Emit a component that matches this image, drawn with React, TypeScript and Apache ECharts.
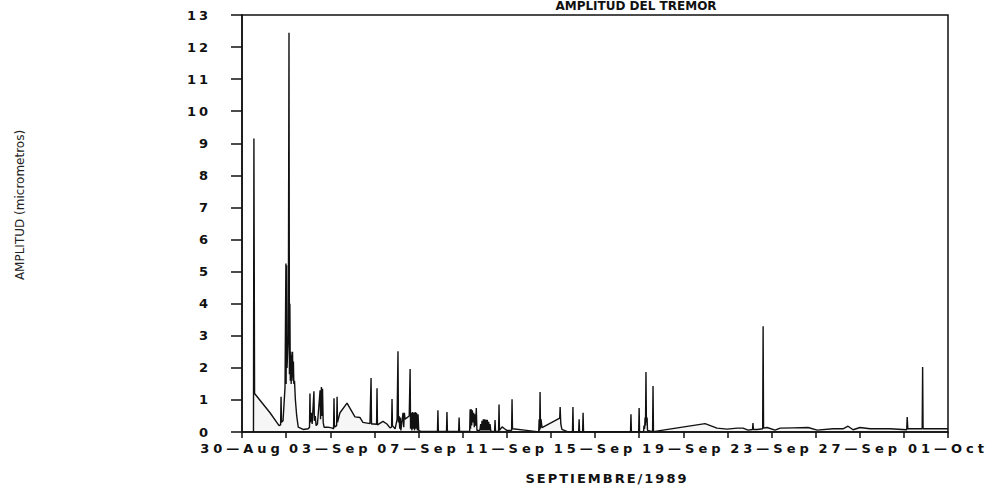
import React, { useEffect, useRef } from "react";
import * as echarts from "echarts";

// Tremor amplitude record: day offsets counted from 30 Aug 1989, amplitude in micrometres
const days = [
  0.52, 0.54, 0.57, 1.27, 1.68, 1.75, 1.77, 1.79, 1.86, 1.95, 1.99, 2.0, 2.02, 2.04, 2.1, 2.13,
  2.15, 2.17, 2.19, 2.21, 2.23, 2.25, 2.27, 2.29, 2.31, 2.33, 2.35, 2.38, 2.42, 2.48, 2.55, 2.77,
  3.0, 3.06, 3.08, 3.1, 3.14, 3.18, 3.26, 3.28, 3.32, 3.36, 3.42, 3.54, 3.56, 3.6, 3.62, 3.65,
  3.68, 3.72, 3.9, 4.1, 4.15, 4.17, 4.19, 4.29, 4.31, 4.33, 4.44, 4.76, 5.12, 5.35, 5.48, 5.8,
  5.83, 5.85, 5.87, 5.98, 6.1, 6.12, 6.14, 6.39, 6.57, 6.71, 6.78, 6.8, 6.82, 6.94, 7.03, 7.07,
  7.09, 7.12, 7.15, 7.18, 7.2, 7.3, 7.33, 7.36, 7.39, 7.58, 7.62, 7.64, 7.67, 7.7, 7.73, 7.76,
  7.79, 7.82, 7.85, 7.88, 7.91, 7.95, 7.98, 8.01, 8.1, 8.86, 8.88, 8.9, 9.27, 9.29, 9.31, 9.82,
  9.84, 9.86, 10.32, 10.34, 10.36, 10.38, 10.41, 10.44, 10.47, 10.5, 10.53, 10.56, 10.59, 10.62,
  10.65, 10.78, 10.82, 10.85, 10.88, 10.91, 10.94, 10.97, 11.0, 11.03, 11.06, 11.09, 11.12, 11.15,
  11.18, 11.21, 11.24, 11.28, 11.45, 11.47, 11.49, 11.63, 11.65, 11.67, 11.79, 11.9, 12.0, 12.22,
  12.24, 12.26, 12.8, 13.37, 13.45, 13.47, 13.49, 13.51, 13.53, 13.55, 13.6, 14.4, 14.42, 14.45,
  14.5, 14.75, 14.98, 15.0, 15.02, 15.26, 15.28, 15.3, 15.44, 15.46, 15.48, 17.61, 17.63, 17.65,
  17.98, 18.0, 18.02, 18.2, 18.22, 18.25, 18.27, 18.29, 18.31, 18.33, 18.36, 18.38, 18.61, 18.63,
  18.65, 19.08, 20.99, 21.53, 21.99, 22.44, 22.71, 22.94, 23.14, 23.16, 23.18, 23.35, 23.6, 23.62,
  23.64, 23.8, 24.16, 24.39, 24.98, 25.66, 26.07, 26.79, 27.24, 27.47, 27.7, 28.01, 28.47, 29.37,
  30.13, 30.15, 30.18, 30.37, 30.83, 30.85, 30.87, 32.0,
];

const amplitudes = [
  0, 9.15, 1.2, 0.6, 0.2, 0.22, 1.1, 0.3, 0.35, 1.4, 5.25, 1.5, 5.2, 2.0, 3.0, 12.45,
  1.8, 4.0, 1.6, 2.5, 1.5, 2.4, 1.7, 2.5, 1.6, 2.2, 1.5, 1.6, 1.0, 0.5, 0.15, 0.08,
  0.1, 0.15, 1.2, 0.3, 0.6, 0.25, 1.27, 0.35, 0.5, 0.2, 0.25, 1.3, 0.4, 1.4, 0.5, 1.35,
  0.3, 0.15, 0.15, 0.12, 0.1, 1.05, 0.15, 0.2, 1.1, 0.3, 0.6, 0.9, 0.47, 0.45, 0.3, 0.26,
  0.26, 1.68, 0.25, 0.25, 0.24, 1.36, 0.22, 0.33, 0.25, 0.13, 0.15, 1.03, 0.2, 0.1, 0.4, 2.52,
  0.3, 0.5, 0.1, 0.45, 0.05, 0.6, 0.15, 0.6, 0.4, 0.5, 1.96, 0.1, 0.6, 0.05, 0.62, 0.1,
  0.6, 0.05, 0.62, 0.1, 0.6, 0.05, 0.55, 0.05, 0.02, 0.02, 0.68, 0.02, 0.02, 0.62, 0.02, 0.02,
  0.45, 0.02, 0.02, 0.7, 0.1, 0.72, 0.2, 0.68, 0.3, 0.6, 0.15, 0.55, 0.2, 0.75,
  0.05, 0.05, 0.25, 0.05, 0.35, 0.05, 0.4, 0.05, 0.4, 0.05, 0.38, 0.05, 0.38, 0.05,
  0.32, 0.05, 0.25, 0.02, 0.02, 0.37, 0.02, 0.02, 0.86, 0.05, 0.16, 0.1, 0.05, 0.05,
  1.02, 0.1, 0.06, 0.01, 0.02, 0.4, 0.05, 1.25, 0.1, 0.4, 0.14, 0.43, 0.78, 0.25,
  0.08, 0.01, 0.01, 0.78, 0.01, 0.01, 0.4, 0.01, 0.01, 0.6, 0.01, 0.01, 0.55, 0.01,
  0.01, 0.75, 0.01, 0.01, 0.2, 0.1, 0.45, 0.2, 1.87, 0.3, 0.45, 0.05, 0.01, 1.43,
  0.01, 0.06, 0.26, 0.12, 0.09, 0.12, 0.12, 0.06, 0.08, 0.28, 0.08, 0.08, 0.1, 3.3,
  0.12, 0.14, 0.06, 0.12, 0.13, 0.14, 0.06, 0.1, 0.1, 0.18, 0.07, 0.14, 0.1, 0.1,
  0.07, 0.47, 0.1, 0.1, 0.1, 2.03, 0.1, 0.1,
];

// Labels for every second tick (one every four days)
const dateLabels = [
  "30—Aug", "03—Sep", "07—Sep", "11—Sep", "15—Sep", "19—Sep", "23—Sep", "27—Sep", "01—Oct",
];

const titleText = "AMPLITUD DEL TREMOR";
const xTitle = "SEPTIEMBRE/1989";
const yTitle = "AMPLITUD (micrometros)";

const FONT = "'DejaVu Sans', sans-serif";
const XTICK_FONT = "'DejaVu Sans', Verdana, sans-serif";
const YTICK_FONT = "'DejaVu Sans', Geneva, sans-serif";
const XNAME_FONT = "'DejaVu Sans', Tahoma, sans-serif";

export default function App() {
  const ref = useRef<HTMLDivElement>(null);

  useEffect(() => {
    if (!ref.current) return;
    const chart = echarts.init(ref.current, null, { renderer: "svg" });
    const points = days.map((d, i) => [d, amplitudes[i]]);

    chart.setOption({
      animation: false,
      backgroundColor: "#fff",
      grid: {
        left: 242,
        right: 45,
        top: 15,
        bottom: 55,
        show: true,
        borderColor: "#111",
        borderWidth: 1.5,
        backgroundColor: "transparent",
      },
      xAxis: {
        type: "value",
        min: 0,
        max: 32,
        interval: 2,
        axisLine: { show: true, lineStyle: { color: "#111", width: 1.5 } },
        axisTick: { show: true, inside: false, length: 6, lineStyle: { color: "#111", width: 1.5 } },
        splitLine: { show: false },
        axisLabel: {
          margin: 10,
          color: "#111",
          fontFamily: XTICK_FONT,
          fontWeight: "bold",
          fontSize: 13,
          formatter: (v: number) => (v % 4 === 0 ? dateLabels[v / 4] : ""),
        },
      },
      yAxis: {
        type: "value",
        min: 0,
        max: 13,
        interval: 1,
        axisLine: { show: true, lineStyle: { color: "#111", width: 1.5 } },
        axisTick: { show: true, inside: false, length: 11, lineStyle: { color: "#111", width: 1.5 } },
        splitLine: { show: false },
        axisLabel: {
          margin: 31,
          color: "#111",
          fontFamily: YTICK_FONT,
          fontWeight: "bold",
          fontSize: 13,
        },
      },
      graphic: [
        {
          type: "text",
          x: 636,
          y: 0,
          style: {
            text: titleText,
            fill: "#111",
            font: `bold 12px ${FONT}`,
            textAlign: "center",
            textVerticalAlign: "top",
          },
        },
        {
          type: "text",
          x: 607,
          y: 478,
          style: {
            text: xTitle,
            fill: "#111",
            font: `bold 13px ${XNAME_FONT}`,
            textAlign: "center",
            textVerticalAlign: "middle",
          },
        },
        {
          type: "text",
          x: 20,
          y: 205,
          rotation: Math.PI / 2,
          style: {
            text: yTitle,
            fill: "#222",
            font: `12px ${FONT}`,
            textAlign: "center",
            textVerticalAlign: "middle",
          },
        },
      ],
      series: [
        {
          type: "line",
          data: points,
          showSymbol: false,
          symbol: "none",
          silent: true,
          lineStyle: { color: "#111", width: 1.4 },
          areaStyle: { color: "rgba(0,0,0,0.05)", origin: "start" },
        },
      ],
    });

    return () => chart.dispose();
  }, []);

  return (
    <>
      <style>{`
        .tremor-chart text[style*="Verdana"] { letter-spacing: 4px; }
        .tremor-chart text[style*="Geneva"] { letter-spacing: 3px; }
        .tremor-chart text[style*="Tahoma"] { letter-spacing: 2px; }
      `}</style>
      <div
        className="tremor-chart"
        ref={ref}
        style={{ position: "fixed", left: 0, top: 0, width: 993, height: 487 }}
      />
    </>
  );
}
